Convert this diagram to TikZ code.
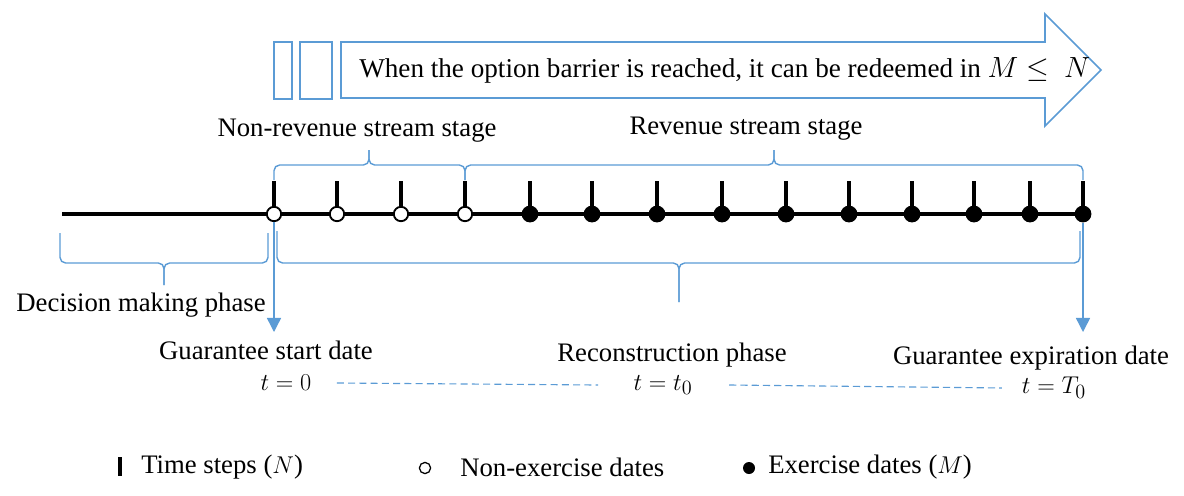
\documentclass[tikz,border=0pt]{standalone}
\usepackage{fontspec}
\setmainfont{Liberation Serif}
\usepackage{amsmath}
\usetikzlibrary{arrows.meta}

\definecolor{lineblue}{RGB}{91,155,213}

\tikzset{
  openpt/.style={circle, draw=black, line width=1.3pt, fill=white, minimum size=0.36cm, inner sep=0pt},
  fullpt/.style={circle, fill=black, minimum size=0.42cm, inner sep=0pt},
  tickline/.style={black, line width=2.4pt},
  brc/.style={lineblue, line width=1pt, rounded corners=4pt},
  barrow/.style={lineblue, line width=1pt, -{Triangle[width=10pt,length=10pt]}},
  dashline/.style={lineblue, line width=0.8pt, dash pattern=on 5pt off 3pt},
  lbl/.style={font=\fontsize{19}{22}\selectfont, inner sep=0pt},
}

\begin{document}
\begin{tikzpicture}[x=0.025cm, y=-0.025cm]
\useasboundingbox (0,0) rectangle (1184,495);

% arrow on top
\draw[lineblue, line width=1.2pt] (274,42) rectangle (292,99);
\draw[lineblue, line width=1.2pt] (300,42) rectangle (332,99);
\draw[lineblue, line width=1.2pt] (341,42) -- (1045,42) -- (1045,14) -- (1101,70)
   -- (1045,126) -- (1045,98) -- (341,98) -- cycle;
\node[lbl, font=\fontsize{19.3}{22}\selectfont, anchor=west] (msg) at (359,70)
   {When the option barrier is reached, it can be redeemed in $M \leq\ N$};

% time line
\coordinate (tl0) at (62,214);
\coordinate (tl1) at (1083,214);
\draw[black, line width=2.5pt] (tl0) -- (tl1);

\foreach \x [count=\i] in {274,337,401,465,530,592,657,722,786,849,912,974,1030,1083}{
  \coordinate (k\i) at (\x,181);
  \coordinate (q\i) at (\x,214);
  \draw[tickline] (q\i) -- (k\i);
  \ifnum\i<5
    \node[openpt] (p\i) at (q\i) {};
  \else
    \node[fullpt] (p\i) at (q\i) {};
  \fi
}

% stages
\node[lbl] (nonrev) at (357,131) {Non-revenue stream stage};
\node[lbl] (rev) at (746,129) {Revenue stream stage};
\draw[brc] (274,180) |- (369,165) -- (369,150);
\draw[brc] (369,150) -- (369,165) -| (465,180);
\draw[brc] (465,180) |- (774,165) -- (774,150);
\draw[brc] (774,150) -- (774,165) -| (1083,180);

% phases
\draw[brc] (60,233) |- (164,263) -- (164,285);
\draw[brc] (164,285) -- (164,263) -| (268,233);
\draw[brc] (277,231) |- (679,263) -- (679,302);
\draw[brc] (679,302) -- (679,263) -| (1080,231);
\node[lbl] (decide) at (141,305) {Decision making phase};
\node[lbl] (recon) at (672,355) {Reconstruction phase};

% dates
\coordinate (s1) at (274,332);
\coordinate (s14) at (1083,332);
\draw[barrow] (p1.south) -- (s1);
\draw[barrow] (p14.south) -- (s14);
\node[lbl] (gstart) at (266,350) {Guarantee start date};
\node[lbl] (gend) at (1031,358) {Guarantee expiration date};
\node[lbl] (tzero) at (286,383) {$t=0$};
\node[lbl] (tmid) at (663,385) {$t=t_0$};
\node[lbl] (tend) at (1054,388) {$t=T_0$};
\draw[dashline] ([xshift=18pt]tzero.east) -- ([xshift=-25pt]tmid.west);
\draw[dashline] ([xshift=26pt]tmid.east) -- ([xshift=-14pt]tend.west);

% legend
\coordinate (lg0) at (120,457);
\coordinate (lg1) at (120,476);
\draw[tickline] (lg0) -- (lg1);
\node[lbl, anchor=west] (lgtick) at (141,467) {Time steps ($N$)};
\node[openpt, line width=0.9pt, minimum size=0.28cm] (lgopen) at (425,468) {};
\node[lbl, anchor=west] (lgnon) at (460,467) {Non-exercise dates};
\node[fullpt, minimum size=0.3cm] (lgfull) at (749,468) {};
\node[lbl, anchor=west] (lgex) at (768,467) {Exercise dates ($M$)};
\end{tikzpicture}
\end{document}
